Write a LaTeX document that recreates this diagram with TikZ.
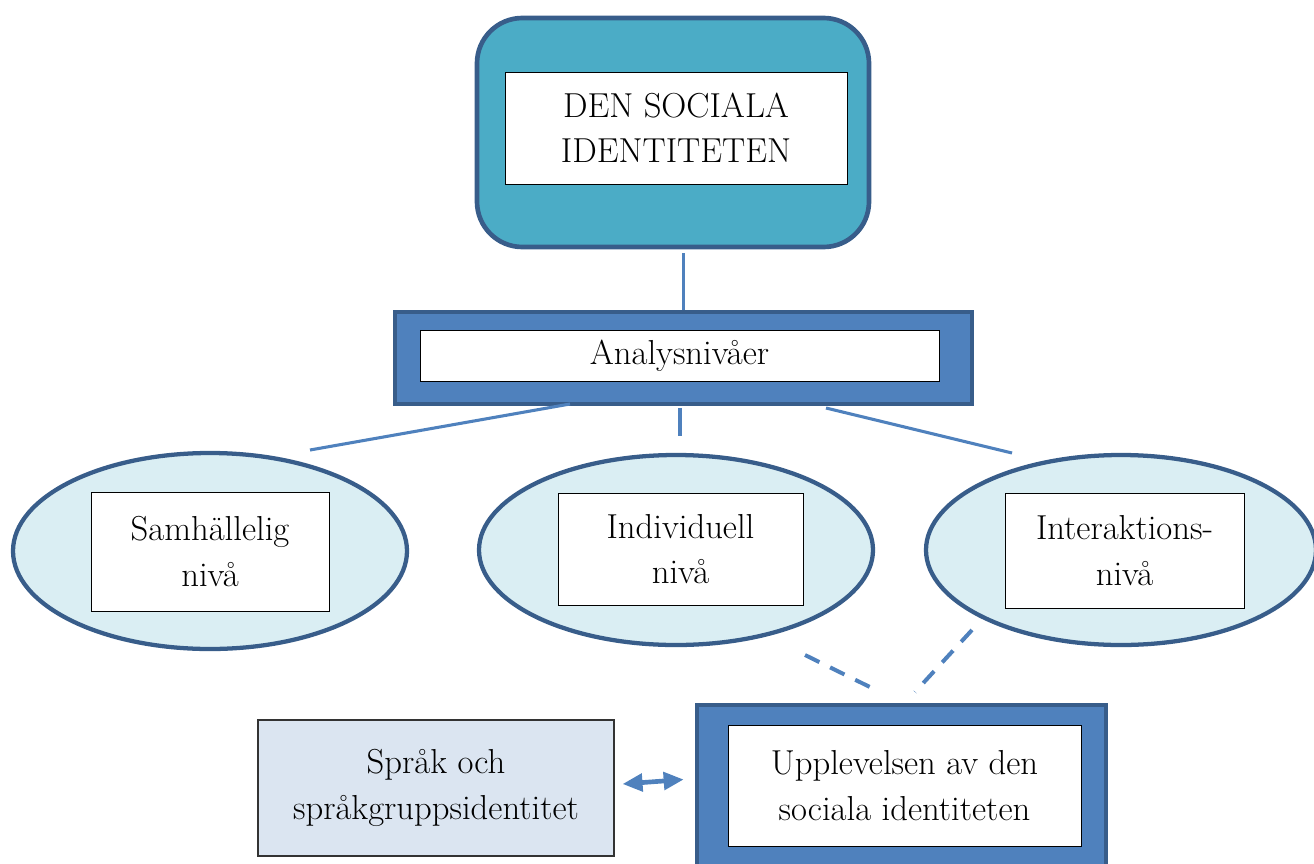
\documentclass[tikz,border=0pt]{standalone}
\usetikzlibrary{shapes.geometric,arrows.meta}
\newdimen\pxu \pxu=0.75pt
\definecolor{tealfill}{HTML}{4BACC6}
\definecolor{darkborder}{HTML}{385D8A}
\definecolor{midblue}{HTML}{4F81BD}
\definecolor{ellfill}{HTML}{DAEEF3}
\definecolor{langfill}{HTML}{DBE5F1}
\begin{document}
\begin{tikzpicture}[x=0.75pt,y=-0.75pt,
  txt/.style={font=\fontsize{26}{34}\selectfont, align=center, text=black},
  whitebox/.style={draw=black, line width=0.6pt, fill=white, inner sep=0pt, txt},
  bluebox/.style={draw=darkborder, line width=3.5pt, fill=midblue, inner sep=0pt},
  topbox/.style={draw=darkborder, line width=3.5pt, fill=tealfill, rounded corners=34pt, inner sep=0pt},
  ell/.style={ellipse, draw=darkborder, line width=3.2pt, fill=ellfill, inner sep=0pt},
  conn/.style={draw=midblue, line width=2.3pt},
  dashconn/.style={draw=midblue, line width=3pt, dash pattern=on 12pt off 9pt},
  dbl/.style={draw=midblue, line width=3.5pt, {Triangle[length=15pt,width=13pt]}-{Triangle[length=15pt,width=13pt]}}
]
\useasboundingbox (0,0) rectangle (1314,864);

% top box
\node[topbox, minimum width=392\pxu, minimum height=229\pxu] (top) at (673,132.5) {};
\node[whitebox, minimum width=342\pxu, minimum height=112\pxu] (topin) at (676,128) {DEN SOCIALA\\IDENTITETEN};

% Analysnivaer
\node[bluebox, minimum width=577\pxu, minimum height=92\pxu] (ana) at (683.5,358) {};
\node[whitebox, minimum width=519\pxu, minimum height=51\pxu] (anain) at (679.5,355.5) {\raisebox{-4pt}{Analysnivåer}};

% ellipses
\node[ell, minimum width=394\pxu, minimum height=196\pxu] (e1) at (210,551) {};
\node[ell, minimum width=394\pxu, minimum height=190\pxu] (e2) at (676,550) {};
\node[ell, minimum width=390\pxu, minimum height=190\pxu] (e3) at (1121,550) {};
\node[whitebox, minimum width=238\pxu, minimum height=119\pxu] (b1) at (210,551.5) {Samhällelig\\nivå};
\node[whitebox, minimum width=245\pxu, minimum height=112\pxu] (b2) at (680.5,549) {Individuell\\nivå};
\node[whitebox, minimum width=239\pxu, minimum height=115\pxu] (b3) at (1124.5,550.5) {Interaktions-\\nivå};

% bottom boxes
\node[bluebox, minimum width=409\pxu, minimum height=167\pxu] (upp) at (901.5,788.5) {};
\node[whitebox, minimum width=353\pxu, minimum height=121\pxu] (uppin) at (904.5,785.5) {Upplevelsen av den\\sociala identiteten};
\node[draw=black!80, line width=0.8pt, fill=langfill, inner sep=0pt, txt, minimum width=356\pxu, minimum height=136\pxu] (lang) at (436,788) {Språk och\\språkgruppsidentitet};

% connectors
\draw[conn] ([yshift=-4\pxu]top.south -| ana.north) -- (ana.north);
\coordinate (la) at (570,404);
\coordinate (lb) at (310,450);
\coordinate (ma) at (680,408);
\coordinate (mb) at (680,436);
\coordinate (ra) at (826,408);
\coordinate (rb) at (1012,453);
\draw[conn] (la) -- (lb);
\draw[conn] (ma) -- (mb);
\draw[conn] (ra) -- (rb);

\coordinate (d1a) at (805,655);
\coordinate (d1b) at (880,692);
\coordinate (d2a) at (972,630);
\coordinate (d2b) at (915,692);
\draw[dashconn] (d1a) -- (d1b);
\draw[dashconn] (d2a) -- (d2b);

\draw[dbl] ([shift={(8,-4)}]lang.east) -- ([shift={(-11,-9)}]upp.west);
\end{tikzpicture}
\end{document}
